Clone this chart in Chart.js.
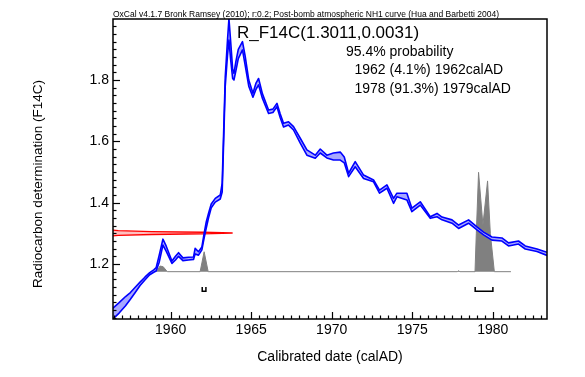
<!DOCTYPE html>
<html><head><meta charset="utf-8">
<script src="https://cdn.jsdelivr.net/npm/chart.js@4.4.1/dist/chart.umd.min.js"></script>
<style>html,body{margin:0;padding:0;background:#fff;}canvas{display:block;}</style>
</head><body>
<canvas id="c" width="585" height="377"></canvas>
<script>
// ---- data ----
const curveYears = [1956.42,1956.80,1957.20,1957.50,1957.80,1958.10,1958.40,1958.70,1958.95,1959.10,1959.29,1959.52,1959.72,1960.08,1960.30,1960.49,1960.76,1961.11,1961.42,1961.52,1961.73,1961.94,1962.08,1962.21,1962.35,1962.52,1962.77,1963.08,1963.20,1963.39,1963.53,1963.62,1963.72,1963.85,1963.93,1964.05,1964.20,1964.46,1964.62,1964.85,1965.11,1965.30,1965.46,1965.70,1966.08,1966.35,1966.60,1966.80,1967.01,1967.32,1967.63,1968.04,1968.46,1968.98,1969.29,1969.70,1970.11,1970.53,1970.78,1971.05,1971.46,1971.98,1972.60,1972.97,1973.43,1973.84,1974.05,1974.67,1974.98,1975.50,1976.12,1976.54,1976.85,1977.47,1977.88,1978.50,1979.02,1979.43,1979.95,1980.57,1980.98,1981.60,1982.02,1982.75,1983.37];
const curveUpper = [1.056,1.074,1.094,1.107,1.124,1.141,1.157,1.172,1.181,1.188,1.229,1.281,1.259,1.210,1.225,1.237,1.220,1.222,1.223,1.251,1.240,1.256,1.300,1.337,1.365,1.396,1.414,1.425,1.464,1.810,1.930,2.000,1.930,1.835,1.822,1.860,1.900,1.925,1.880,1.800,1.757,1.790,1.805,1.755,1.702,1.705,1.724,1.690,1.659,1.664,1.648,1.611,1.572,1.555,1.575,1.555,1.562,1.565,1.549,1.496,1.534,1.490,1.474,1.441,1.458,1.414,1.431,1.431,1.382,1.403,1.354,1.365,1.353,1.344,1.327,1.344,1.321,1.304,1.288,1.285,1.269,1.275,1.259,1.249,1.238];
const curveLower = [1.021,1.040,1.064,1.085,1.107,1.130,1.148,1.165,1.173,1.177,1.206,1.262,1.242,1.202,1.213,1.225,1.211,1.213,1.215,1.233,1.229,1.246,1.285,1.317,1.350,1.383,1.402,1.412,1.435,1.780,1.880,1.930,1.870,1.805,1.800,1.830,1.870,1.898,1.850,1.780,1.744,1.770,1.784,1.740,1.691,1.694,1.713,1.678,1.647,1.653,1.637,1.595,1.555,1.545,1.562,1.546,1.539,1.539,1.530,1.485,1.517,1.479,1.468,1.431,1.447,1.398,1.419,1.409,1.371,1.392,1.349,1.354,1.344,1.333,1.316,1.333,1.311,1.295,1.278,1.275,1.259,1.265,1.249,1.241,1.228];

// posterior (calibrated) distribution, drawn up from its baseline
const postYears = [1959.12,1959.34,1959.54,1959.79,1961.83,1962.08,1962.33,1977.80,1977.88,1977.96,1978.90,1978.98,1979.12,1979.39,1979.68,1979.85,1980.10,1981.13];
const postF     = [1.175,1.1935,1.191,1.175,1.175,1.240,1.175,1.175,1.178,1.175,1.175,1.300,1.499,1.327,1.471,1.300,1.175,1.175];
const POST_BASE = 1.175;

// measurement likelihood R_F14C(1.3011,0.0031): profile extent (years from left edge) at each F14C level
const likeF     = [1.2916,1.29335,1.29645,1.29878,1.3011,1.30343,1.30575,1.30885,1.3106];
const likeWidth = [0.0,0.325,2.40,5.58,7.40,5.58,2.40,0.325,0.0];

// 95.4% ranges
const rangeStart = [1961.96, 1978.91];
const rangeEnd   = [1962.19, 1980.01];
const BRACKET_TOP = 1.125, BRACKET_BOTTOM = 1.111;

const X_MIN = 1956.42, X_MAX = 1983.37, Y_MIN = 1.0207, Y_MAX = 1.999;

const titleText = 'OxCal v4.1.7 Bronk Ramsey (2010); r:0.2; Post-bomb atmospheric NH1 curve (Hua and Barbetti 2004)';
const sampleName = 'R_F14C(1.3011,0.0031)';
const rangeLines = ['95.4% probability','1962 (4.1%) 1962calAD','1978 (91.3%) 1979calAD'];
const xTitle = 'Calibrated date (calAD)';
const yTitle = 'Radiocarbon determination (F14C)';

// ---- build ----
const FONT = '"Liberation Sans", Arial, sans-serif';
const upperPts = curveYears.map((x,i)=>({x, y: curveUpper[i]}));
const lowerPts = curveYears.map((x,i)=>({x, y: curveLower[i]}));
const postPts = postYears.map((x,i)=>({x, y: postF[i]}));
const likePts = likeF.map((f,i)=>({x: X_MIN + likeWidth[i], y: f}));
const bracketPts = [];
rangeStart.forEach((s,i)=>{
  const e = rangeEnd[i];
  bracketPts.push({x:s,y:BRACKET_TOP},{x:s,y:BRACKET_BOTTOM},{x:e,y:BRACKET_BOTTOM},{x:e,y:BRACKET_TOP},{x:e,y:null});
});

const framePlugin = {
  id: 'frame',
  afterDraw(chart) {
    const {ctx, chartArea: a, scales: {x, y}} = chart;
    ctx.save();
    ctx.strokeStyle = '#000';
    ctx.lineWidth = 1.2;
    for (let i = Math.ceil(X_MIN*2); i/2 <= X_MAX; i++) {
      const px = Math.round(x.getPixelForValue(i/2)) + 0.5;
      const len = (i % 10 === 0) ? 7 : 3.5;
      ctx.beginPath(); ctx.moveTo(px, a.bottom); ctx.lineTo(px, a.bottom - len); ctx.stroke();
    }
    for (let i = Math.ceil(Y_MIN/0.025 - 1e-9); i*0.025 <= Y_MAX; i++) {
      const py = Math.round(y.getPixelForValue(i*0.025)) + 0.5;
      const len = (i % 8 === 0) ? 7 : 3.5;
      ctx.beginPath(); ctx.moveTo(a.left, py); ctx.lineTo(a.left + len, py); ctx.stroke();
    }
    ctx.lineWidth = 1.5;
    ctx.strokeRect(a.left, a.top, a.right - a.left, a.bottom - a.top);

    ctx.fillStyle = '#000';
    ctx.textAlign = 'left';
    ctx.textBaseline = 'alphabetic';
    ctx.font = '17px ' + FONT;
    ctx.fillText(sampleName, 237, 38);
    ctx.font = '14px ' + FONT;
    ctx.fillText(rangeLines[0], 346, 55.5);
    ctx.fillText(rangeLines[1], 354.5, 74);
    ctx.fillText(rangeLines[2], 354.5, 92.5);

    ctx.save();
    ctx.translate(38, 184);
    ctx.rotate(-Math.PI/2);
    ctx.textAlign = 'center';
    ctx.textBaseline = 'middle';
    ctx.font = '13.5px ' + FONT;
    ctx.fillText(yTitle, 0, 0);
    ctx.restore();
    ctx.restore();
  }
};

new Chart(document.getElementById('c'), {
  type: 'line',
  data: {
    datasets: [
      { label: 'ranges', data: bracketPts, borderColor: '#000', borderWidth: 1.5, pointRadius: 0, fill: false, order: 0, spanGaps: false },
      { label: 'curve lower', data: lowerPts, borderColor: '#0000ff', borderWidth: 1.6, pointRadius: 0, fill: false, order: 1, borderJoinStyle: 'round' },
      { label: 'curve upper', data: upperPts, borderColor: '#0000ff', borderWidth: 1.6, pointRadius: 0, fill: '-1', backgroundColor: '#a8a8ff', order: 2, borderJoinStyle: 'round' },
      { label: 'likelihood', data: likePts, borderColor: '#ff0000', borderWidth: 1.4, pointRadius: 0, fill: 'shape', backgroundColor: 'rgba(255,0,0,0.25)', order: 3, borderJoinStyle: 'round' },
      { label: 'posterior', data: postPts, borderColor: '#808080', borderWidth: 1, pointRadius: 0, fill: {value: POST_BASE}, backgroundColor: '#808080', order: 4 }
    ]
  },
  options: {
    responsive: false,
    animation: false,
    events: [],
    devicePixelRatio: 1,
    layout: { padding: { left: 0, top: 0, right: 38, bottom: 0 } },
    plugins: {
      legend: { display: false },
      tooltip: { enabled: false },
      title: {
        display: true, text: titleText, align: 'start', fullSize: false, color: '#000',
        font: { family: FONT, size: 8.5, lineHeight: 1, weight: 'normal' },
        padding: { top: 10.3, bottom: 0.2 }
      }
    },
    scales: {
      x: {
        type: 'linear', min: X_MIN, max: X_MAX,
        grid: { display: false, drawTicks: false }, border: { display: false },
        ticks: { stepSize: 5, includeBounds: false, autoSkip: false, maxRotation: 0, padding: 3, color: '#000', font: { family: FONT, size: 14 }, callback: v => String(v) },
        title: { display: true, text: xTitle, color: '#000', font: { family: FONT, size: 14 }, padding: { top: 0, bottom: 11.6 } },
        afterFit(s) { s.height = 58; }
      },
      y: {
        type: 'linear', min: Y_MIN, max: Y_MAX,
        grid: { display: false, drawTicks: false }, border: { display: false },
        ticks: { stepSize: 0.2, includeBounds: false, padding: 4, color: '#000', font: { family: FONT, size: 14 }, callback: v => v.toFixed(1) },
        afterFit(s) { s.width = 113; }
      }
    }
  },
  plugins: [framePlugin]
});
</script>
</body></html>
